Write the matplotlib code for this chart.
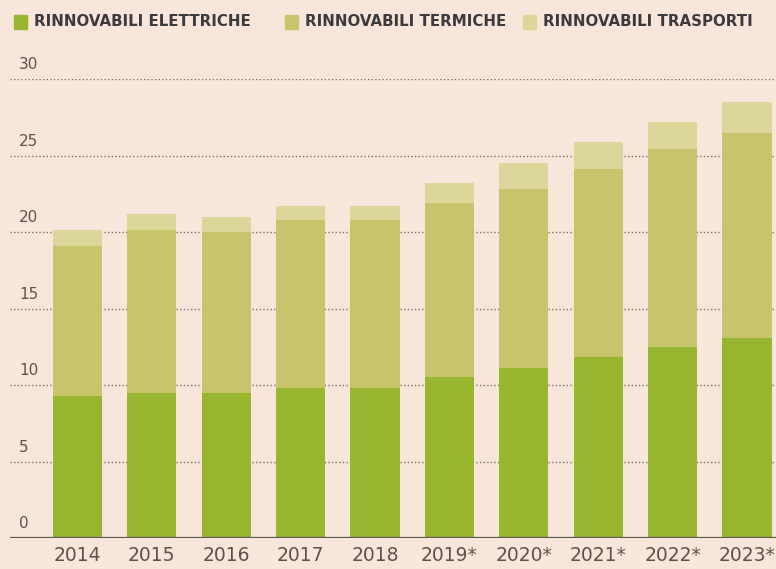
import matplotlib.pyplot as plt
import matplotlib.patches as mpatches
import numpy as np

years = ['2014', '2015', '2016', '2017', '2018', '2019*', '2020*', '2021*', '2022*', '2023*']
elettriche = [9.3, 9.5, 9.5, 9.8, 9.8, 10.5, 11.1, 11.8, 12.5, 13.1]
termiche = [9.8, 10.6, 10.5, 11.0, 11.0, 11.4, 11.7, 12.3, 12.9, 13.4]
trasporti = [1.0, 1.1, 1.0, 0.9, 0.9, 1.3, 1.7, 1.8, 1.8, 2.0]

series_names = ['RINNOVABILI ELETTRICHE', 'RINNOVABILI TERMICHE', 'RINNOVABILI TRASPORTI']
colors = ['#98b52f', '#c7c46b', '#ddd69a']
bg = '#f8e6da'
text_col = '#5c524b'

plt.rcParams['font.family'] = 'DejaVu Sans'

fig = plt.figure(figsize=(7.76, 5.69), dpi=100, facecolor=bg)
ax = fig.add_axes([10 / 776, 1 - 538 / 569, 766 / 776, (538 - 79) / 569])
ax.set_facecolor(bg)

x = np.arange(len(years))
w = 0.66
bottom = np.zeros(len(years))
for vals, c in zip([elettriche, termiche, trasporti], colors):
    ax.bar(x, vals, w, bottom=bottom, color=c, zorder=3)
    bottom += np.array(vals)

ax.set_xlim(-0.907, 9.39)
ax.set_ylim(0, 30)

# dotted gridlines with the value written just above, solid baseline
for v in range(0, 31, 5):
    if v > 0:
        ax.axhline(v, color='#7a7068', lw=1.0, ls=(0, (1, 1.6)), zorder=1)
    ax.text(0.012, v + 0.45, str(v), transform=ax.get_yaxis_transform(),
            fontsize=11, color=text_col, ha='left', va='bottom')
ax.axhline(0, color='#5e5650', lw=1.6, zorder=4)

for s in ax.spines.values():
    s.set_visible(False)
ax.set_yticks([])
ax.set_xticks(x)
ax.set_xticklabels(years, fontsize=13.5, color=text_col)
ax.tick_params(axis='x', length=0, pad=6)

# legend across the top
leg_x = [14, 285, 523]
for name, c, lx in zip(series_names, colors, leg_x):
    fig.patches.append(mpatches.Rectangle((lx / 776, 1 - 29 / 569), 13 / 776, 14 / 569,
                                          transform=fig.transFigure, color=c))
    fig.text((lx + 20) / 776, 1 - 22 / 569, name, fontsize=10.8, fontweight='bold',
             color='#3c3a3c', va='center', ha='left')

plt.savefig('out.png', dpi=100, facecolor=bg)
